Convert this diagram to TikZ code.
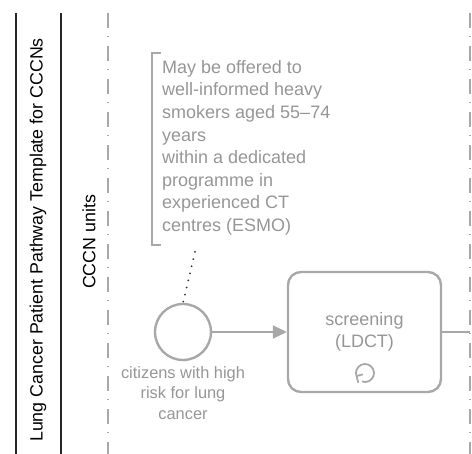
\documentclass[tikz,border=0pt]{standalone}
\usepackage{fontspec}
\setmainfont{Liberation Sans}
\usetikzlibrary{arrows.meta,positioning}
\definecolor{bpmngray}{HTML}{A8A8A8}
\definecolor{bpmntext}{HTML}{969696}

\begin{document}
\begin{tikzpicture}[x=1pt,y=-1pt,
    poolline/.style={line width=2pt, black!85},
    lanesep/.style={line width=1.6pt, bpmngray, dash pattern=on 15pt off 8pt on 1pt off 9pt},
    event/.style={circle, draw=bpmngray, line width=2.4pt, minimum size=56pt, inner sep=0pt},
    task/.style={draw=bpmngray, line width=2.4pt, rounded corners=13pt, minimum width=153pt,
        minimum height=120pt, inner sep=0pt, align=center, text=bpmntext,
        font=\fontsize{18}{22}\selectfont},
    flow/.style={line width=2pt, bpmngray},
    assoc/.style={line width=2pt, black!80, line cap=round, dash pattern=on 0pt off 7.3pt}]
    \useasboundingbox (0,0) rectangle (472,454);

    % pool and lane borders
    \draw[poolline] (16,13) -- (16,454);
    \draw[poolline] (61,13) -- (61,454);
    \draw[lanesep] (108,13) -- (108,454);
    \draw[lanesep] (470,13) -- (470,454);
    \node[rotate=90, font=\fontsize{17.8}{20}\selectfont] (pool) at (38,240)
        {Lung Cancer Patient Pathway Template for CCCNs};
    \node[rotate=90, font=\fontsize{17.8}{20}\selectfont] (lane) at (89,242) {CCCN units};

    % text annotation
    \node[anchor=north west, align=left, inner sep=0pt, text=bpmntext,
        font=\fontsize{18}{22.6}\selectfont] (note) at (162,60)
        {May be offered to\\well-informed heavy\\smokers aged 55--74\\years\\within a dedicated\\programme in\\experienced CT\\centres (ESMO)};
    \draw[line width=1.6pt, bpmngray] (161,53) -- (152,53) -- (152,245) -- (161,245);
    \coordinate (noteend) at (195,252);

    % start event
    \node[event] (start) at (183,332) {};
    \node[below=5pt of start, align=center, inner sep=0pt, text=bpmntext,
        font=\fontsize{16.4}{20.5}\selectfont] (startlabel)
        {citizens with high\\risk for lung\\cancer};
    \draw[assoc] (noteend) -- (start.north);

    % task
    \node[task] (screen) at (364.5,332) {screening\\(LDCT)};
    \begin{scope}[shift={(365,373)}, yscale=-1]
        \draw[line width=1.8pt, bpmngray] (-110:9) arc (-110:200:9);
        \draw[line width=1.8pt, bpmngray] (200:9) -- ++(-75:7);
        \draw[line width=1.8pt, bpmngray] (200:9) -- ++(15:6.5);
    \end{scope}

    % sequence flows
    \draw[flow, -{Triangle[length=14pt,width=13pt]}] (start) -- (screen);
    \coordinate (laneend) at (470,332);
    \draw[flow] (screen) -- (laneend);
\end{tikzpicture}
\end{document}
